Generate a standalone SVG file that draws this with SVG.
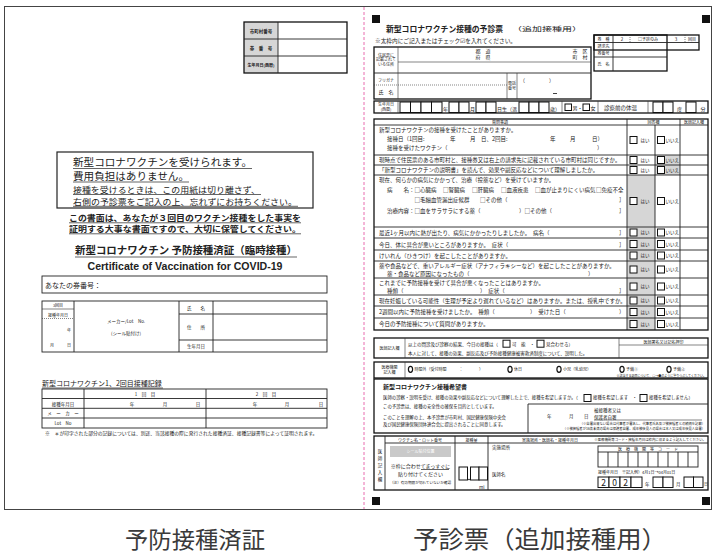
<svg xmlns="http://www.w3.org/2000/svg" width="714" height="555" viewBox="0 0 714 555">
<style>
text{font-family:"Noto Sans CJK JP","Noto Sans",sans-serif;fill:#222}
.c{text-anchor:middle}
.e{text-anchor:end}
.b{font-weight:bold}
.l{stroke:#333;stroke-width:0.6;fill:none}
.m{stroke:#222;stroke-width:0.9;fill:none}
.k{stroke:#111;stroke-width:1.3;fill:none}
.cb{fill:#fff;stroke:#111;stroke-width:1}
.bx{fill:#fff;stroke:#111;stroke-width:1}
.g{fill:#d6d6d6}
.dot{stroke:#333;stroke-width:0.6;stroke-dasharray:1 1;fill:none}
.u{stroke:#222;stroke-width:0.7}
.f3{font-size:3.3px}.f4{font-size:4px}.f44{font-size:4.4px}.f45{font-size:4.5px}.f5{font-size:5px}.f55{font-size:5.5px}
.oc{fill:none;stroke:#111;stroke-width:1.2}
</style>
<defs>
<g id="ans">
<rect class="cb" x="630" y="-3.5" width="7" height="7"/>
<text x="640.5" y="1.7" class="f45">はい</text>
<rect class="cb" x="657.5" y="-3.5" width="7" height="7"/>
<text x="665.5" y="1.7" class="f45">いいえ</text>
</g>
</defs>
<rect width="714" height="555" fill="#fff"/>

<g id="frame">
<rect x="4.5" y="6.5" width="707" height="503" fill="none" stroke="#444" stroke-width="1"/>
<line x1="364" y1="7" x2="364" y2="509" stroke="#e2479a" stroke-width="0.8" stroke-dasharray="3 2"/>
</g>

<!-- LEFT PAGE -->
<g id="id-table">
<rect x="244" y="22" width="34" height="51" class="g"/>
<rect x="244" y="22" width="103" height="51" class="k"/>
<line class="m" x1="244" y1="39" x2="347" y2="39"/>
<line class="m" x1="244" y1="56" x2="347" y2="56"/>
<line class="m" x1="278" y1="22" x2="278" y2="73"/>
<text x="261" y="32.5" class="c f45 b">市町村番号</text>
<text x="261" y="49.5" class="c f45 b">券　番　号</text>
<text x="261" y="66.5" class="c f4 b">生年月日(西暦)</text>
</g>

<g id="notice">
<rect x="57" y="152" width="256" height="56" fill="none" stroke="#222" stroke-width="1.2"/>
<text x="73" y="165.5" font-size="10.2" textLength="179" lengthAdjust="spacingAndGlyphs">新型コロナワクチンを受けられます。</text>
<line class="u" x1="73" y1="168.5" x2="252" y2="168.5"/>
<text x="73" y="179.5" font-size="10.2" textLength="116" lengthAdjust="spacingAndGlyphs">費用負担はありません。</text>
<line class="u" x1="73" y1="182" x2="189" y2="182"/>
<text x="73" y="192.5" font-size="8.4" textLength="187" lengthAdjust="spacingAndGlyphs">接種を受けるときは、この用紙は切り離さず、</text>
<line class="u" x1="73" y1="194.5" x2="261" y2="194.5"/>
<text x="73" y="204.5" font-size="8.4" textLength="224" lengthAdjust="spacingAndGlyphs">右側の予診票をご記入の上、忘れずにお持ちください。</text>
<line class="u" x1="73" y1="206.3" x2="298" y2="206.3"/>
</g>

<g id="keep-note">
<text x="69" y="220.8" class="b" font-size="8" textLength="232" lengthAdjust="spacingAndGlyphs">この書面は、あなたが３回目のワクチン接種をした事実を</text>
<line class="u" x1="69" y1="222.8" x2="301" y2="222.8"/>
<text x="69" y="231.8" class="b" font-size="8" textLength="232" lengthAdjust="spacingAndGlyphs">証明する大事な書面ですので、大切に保管してください。</text>
<line class="u" x1="69" y1="233.8" x2="301" y2="233.8"/>
</g>

<g id="cert-title">
<text x="75" y="254" class="b" font-size="10.5" textLength="222" lengthAdjust="spacingAndGlyphs">新型コロナワクチン 予防接種済証（臨時接種）</text>
<line class="u" x1="75" y1="257" x2="297" y2="257"/>
<text x="185" y="270" class="c b" font-size="10" textLength="195" lengthAdjust="spacingAndGlyphs" style="font-family:'Liberation Sans',sans-serif">Certificate of Vaccination for COVID-19</text>
</g>

<g id="ticket-no">
<rect x="42" y="276" width="285" height="17" class="m"/>
<text x="45" y="287.5" font-size="7">あなたの券番号：</text>
</g>

<g id="dose3">
<rect x="42" y="301" width="285" height="51" class="m"/>
<line class="m" x1="74" y1="301" x2="74" y2="352"/>
<line class="m" x1="179" y1="301" x2="179" y2="352"/>
<line class="m" x1="213" y1="301" x2="213" y2="352"/>
<line class="l" x1="42" y1="309" x2="74" y2="309"/>
<line class="dot" x1="42" y1="318.5" x2="74" y2="318.5"/>
<line class="m" x1="179" y1="314" x2="327" y2="314"/>
<line class="m" x1="179" y1="340" x2="327" y2="340"/>
<text x="58" y="307" class="c f4">3回目</text>
<text x="58" y="316.5" class="c f4">接種年月日</text>
<text x="71" y="332" class="e f4">年</text>
<text x="52" y="347" class="c f4">月</text>
<text x="71" y="347" class="e f4">日</text>
<text x="126" y="323" class="c f45">メーカー/Lot　No.</text>
<text x="126" y="334.5" class="c f45">(シール貼付け)</text>
<text x="196" y="310" class="c f45">氏　　名</text>
<text x="196" y="329" class="c f45">住　　所</text>
<text x="196" y="348" class="c f45">生年月日</text>
</g>

<g id="dose12">
<text x="42" y="386" font-size="7">新型コロナワクチン1、2回目接種記録</text>
<line class="u" x1="42" y1="388" x2="163" y2="388"/>
<rect x="42" y="389" width="285" height="39" class="m"/>
<line class="m" x1="42" y1="398.5" x2="327" y2="398.5"/>
<line class="m" x1="42" y1="408.3" x2="327" y2="408.3"/>
<line class="m" x1="42" y1="418" x2="327" y2="418"/>
<line class="m" x1="84" y1="389" x2="84" y2="428"/>
<line class="m" x1="206" y1="389" x2="206" y2="428"/>
<text x="145" y="396" class="c f45">1　回　目</text>
<text x="266" y="396" class="c f45">2　回　目</text>
<text x="63" y="405.5" class="c f45">接種年月日</text>
<text x="132" y="405.5" class="c f45">年</text>
<text x="165" y="405.5" class="c f45">月</text>
<text x="198" y="405.5" class="c f45">日</text>
<text x="255" y="405.5" class="c f45">年</text>
<text x="287" y="405.5" class="c f45">月</text>
<text x="321" y="405.5" class="c f45">日</text>
<text x="63" y="415.3" class="c f45">メ　ー　カ　ー</text>
<text x="63" y="425" class="c f45">Lot　No</text>
<text x="45" y="434.5" font-size="4.8">※　＊が印字された部分の記録については、別途、当該接種の際に発行された接種済証、接種記録書等によって証明されます。</text>
</g>

<!-- RIGHT PAGE -->
<g id="marks" fill="#111">
<rect x="372" y="15" width="8" height="8"/>
<rect x="702" y="15" width="8" height="8"/>
<rect x="372" y="497" width="8" height="8"/>
<rect x="702" y="497" width="8" height="8"/>
</g>

<g id="form-title">
<text x="386" y="32" class="b" font-size="8.3" textLength="117" lengthAdjust="spacingAndGlyphs">新型コロナワクチン接種の予診票</text>
<text x="512" y="31" font-size="6" textLength="70" lengthAdjust="spacingAndGlyphs">（追加接種用）</text>
<text x="375" y="43" font-size="5.7">※太枠内にご記入またはチェック☑を入れてください。</text>
</g>

<g id="info-table">
<rect class="k" x="594" y="35" width="105" height="15"/>
<rect class="k" x="594" y="35" width="73" height="36"/>
<line class="m" x1="594" y1="42.5" x2="699" y2="42.5"/>
<line class="m" x1="594" y1="57" x2="667" y2="57"/>
<line class="m" x1="613" y1="35" x2="613" y2="71"/>
<line class="dot" x1="630" y1="35" x2="630" y2="42.5"/>
<line class="dot" x1="685" y1="35" x2="685" y2="42.5"/>
<text x="603.5" y="40.5" class="c f4">券　種</text>
<text x="622" y="40.8" class="c f45">2</text>
<text x="648" y="40.5" class="c f4">□予診のみ</text>
<text x="676" y="40.8" class="c f45">3</text>
<text x="692" y="40.5" class="c f4">回目</text>
<text x="603.5" y="48" class="c f4">請求先</text>
<text x="603.5" y="55" class="c f4">券番号</text>
<text x="603.5" y="65.5" class="c f4">氏　名</text>
</g>

<g id="address">
<rect class="k" x="374" y="47" width="217" height="52"/>
<line class="m" x1="374" y1="73" x2="591" y2="73"/>
<line class="l" x1="398" y1="47" x2="398" y2="99"/>
<line class="l" x1="398" y1="62" x2="591" y2="62"/>
<line class="dot" x1="374" y1="85" x2="507" y2="85"/>
<line class="l" x1="507" y1="73" x2="507" y2="99"/>
<line class="l" x1="517" y1="73" x2="517" y2="99"/>
<text x="386" y="56.5" class="c f4">住民票に</text>
<text x="386" y="61.3" class="c f4">記載されて</text>
<text x="386" y="66" class="c f4">いる住所</text>
<text x="483" y="52.5" class="c f5">都　道</text>
<text x="483" y="59" class="c f5">府　県</text>
<text x="580" y="52.5" class="c f5">市　区</text>
<text x="580" y="59" class="c f5">町　村</text>
<text x="386" y="81.5" class="c f4">フリガナ</text>
<text x="386" y="94" class="c f5">氏　名</text>
<text x="512" y="84.5" class="c f4">電話</text>
<text x="512" y="90" class="c f4">番号</text>
<text x="520" y="81.5" class="f5">（</text>
<text x="549" y="81.5" class="f5">）</text>
<line x1="553" y1="93.5" x2="557" y2="93.5" stroke="#111" stroke-width="0.8"/>
</g>

<g id="birth">
<rect class="k" x="374" y="101" width="334" height="12"/>
<line class="l" x1="398" y1="101" x2="398" y2="113"/>
<text x="386" y="106" class="c f4">生年月日</text>
<text x="386" y="111" class="c f4">(西暦)</text>
<rect class="bx" x="400" y="102" width="10.5" height="10.5"/>
<rect class="bx" x="410.5" y="102" width="10.5" height="10.5"/>
<rect class="bx" x="421" y="102" width="10.5" height="10.5"/>
<rect class="bx" x="431.5" y="102" width="10.5" height="10.5"/>
<text x="443" y="110.5" class="f5">年</text>
<rect class="bx" x="449" y="102" width="10" height="10.5"/>
<rect class="bx" x="459" y="102" width="10" height="10.5"/>
<text x="470" y="110.5" class="f5">月</text>
<rect class="bx" x="476" y="102" width="10" height="10.5"/>
<rect class="bx" x="486" y="102" width="10" height="10.5"/>
<text x="497" y="110.5" class="f5">日生（満</text>
<rect class="bx" x="519" y="102" width="10" height="10.5"/>
<rect class="bx" x="529" y="102" width="10" height="10.5"/>
<rect class="bx" x="539" y="102" width="10" height="10.5"/>
<text x="550" y="110.5" class="f5">歳）</text>
<line class="l" x1="562" y1="101" x2="562" y2="113"/>
<rect class="cb" x="565" y="104" width="6.5" height="6.5"/>
<text x="572.5" y="110" class="f5">男・</text>
<rect class="cb" x="583" y="104" width="6.5" height="6.5"/>
<text x="590.5" y="110" class="f5">女</text>
<line class="l" x1="598" y1="101" x2="598" y2="113"/>
<text x="604" y="110" class="f55">診察前の体温</text>
<line class="l" x1="648" y1="101" x2="648" y2="113"/>
<rect class="bx" x="653" y="102" width="10" height="10.5"/>
<rect class="bx" x="663" y="102" width="10" height="10.5"/>
<text x="677" y="110.5" class="f5">度</text>
<rect class="bx" x="686" y="102" width="10" height="10.5"/>
<text x="700.5" y="110.5" class="f5">分</text>
</g>

<g id="questions">
<rect class="g" x="655" y="155" width="25" height="20"/>
<rect class="g" x="627" y="175" width="28" height="155"/>
<rect class="k" x="374" y="119" width="334" height="211"/>
<g class="m">
<line x1="374" y1="125" x2="708" y2="125"/>
<line x1="374" y1="155" x2="708" y2="155"/>
<line x1="374" y1="165" x2="708" y2="165"/>
<line x1="374" y1="175" x2="708" y2="175"/>
<line x1="374" y1="227" x2="708" y2="227"/>
<line x1="374" y1="238" x2="708" y2="238"/>
<line x1="374" y1="250" x2="708" y2="250"/>
<line x1="374" y1="261" x2="708" y2="261"/>
<line x1="374" y1="278" x2="708" y2="278"/>
<line x1="374" y1="295" x2="708" y2="295"/>
<line x1="374" y1="306" x2="708" y2="306"/>
<line x1="374" y1="318" x2="708" y2="318"/>
<line x1="627" y1="119" x2="627" y2="330"/>
<line x1="655" y1="125" x2="655" y2="330"/>
<line x1="680" y1="119" x2="680" y2="330"/>
</g>
<text x="500" y="123.7" class="c f4">質問事項</text>
<text x="653.5" y="123.7" class="c f4">回答欄</text>
<text x="694" y="123.7" class="c f4">医師記入欄</text>

<text x="379" y="132" class="f55">新型コロナワクチンの接種を受けたことがありますか。</text>
<text x="387" y="141" class="f55">接種日（1回目:</text>
<text x="450" y="141" class="f55">年</text>
<text x="470" y="141" class="f55">月</text>
<text x="481" y="141" class="f55">日、2回目:</text>
<text x="550" y="141" class="f55">年</text>
<text x="570" y="141" class="f55">月</text>
<text x="592" y="141" class="f55">日）</text>
<text x="387" y="149.5" class="f55">接種を受けたワクチン（</text>
<text x="597" y="149.5" class="f55">）</text>

<text x="379" y="162" class="f55">現時点で住民票のある市町村と、接種券又は右上の請求先に記載されている市町村は同じですか。</text>
<text x="379" y="172" class="f55">「新型コロナワクチンの説明書」を読んで、効果や副反応などについて理解しましたか。</text>

<text x="379" y="182" class="f55">現在、何らかの病気にかかって、治療（投薬など）を受けていますか。</text>
<text x="387" y="192" class="f55">病　　名：□心臓病</text>
<text x="443" y="192" class="f55">□腎臓病</text>
<text x="472" y="192" class="f55">□肝臓病</text>
<text x="501" y="192" class="f55">□血液疾患</text>
<text x="535" y="192" class="f55">□血が止まりにくい病気</text>
<text x="596" y="192" class="f55">□免疫不全</text>
<text x="414.5" y="202" class="f55">□毛細血管漏出症候群</text>
<text x="480" y="202" class="f55">□その他（</text>
<text x="619" y="202" class="f55">］</text>
<text x="387" y="213" class="f55">治療内容：□血をサラサラにする薬（</text>
<text x="519" y="213" class="f55">）□その他（</text>
<text x="619" y="213" class="f55">］</text>

<text x="379" y="235" class="f55">最近1ヶ月以内に熱が出たり、病気にかかったりしましたか。　病名（</text>
<text x="619" y="235" class="f55">］</text>
<text x="379" y="246.5" class="f55">今日、体に具合が悪いところがありますか。　症状（</text>
<text x="619" y="246.5" class="f55">］</text>
<text x="379" y="258" class="f55">けいれん（ひきつけ）を起こしたことがありますか。</text>
<text x="379" y="267.5" class="f55">薬や食品などで、重いアレルギー症状（アナフィラキシーなど）を起こしたことがありますか。</text>
<text x="387" y="275.5" class="f55">薬・食品など原因になったもの（</text>
<text x="588" y="275.5" class="f55">）</text>
<text x="379" y="284.5" class="f55">これまでに予防接種を受けて具合が悪くなったことはありますか。</text>
<text x="387" y="292.5" class="f55">種類（</text>
<text x="480" y="292.5" class="f55">）　症状（</text>
<text x="619" y="292.5" class="f55">］</text>
<text x="379" y="303" class="f55">現在妊娠している可能性（生理が予定より遅れているなど）はありますか。または、授乳中ですか。</text>
<text x="379" y="314" class="f55">2週間以内に予防接種を受けましたか。　種類（</text>
<text x="530" y="314" class="f55">）　受けた日（</text>
<text x="619" y="314" class="f55">）</text>
<text x="379" y="326" class="f55">今日の予防接種について質問がありますか。</text>

<use href="#ans" y="140"/>
<use href="#ans" y="160"/>
<use href="#ans" y="170"/>
<use href="#ans" y="201"/>
<use href="#ans" y="232.5"/>
<use href="#ans" y="244"/>
<use href="#ans" y="255.5"/>
<use href="#ans" y="269.5"/>
<use href="#ans" y="286.5"/>
<use href="#ans" y="300.5"/>
<use href="#ans" y="312"/>
<use href="#ans" y="324"/>
</g>

<g id="doctor">
<rect class="k" x="374" y="338" width="334" height="20"/>
<line class="l" x1="405" y1="338" x2="405" y2="358"/>
<line class="l" x1="619" y1="338" x2="619" y2="358"/>
<line class="l" x1="619" y1="345" x2="708" y2="345"/>
<text x="389.5" y="349.5" class="c f4">医師記入欄</text>
<text x="663.5" y="343.5" class="c f4">医師署名又は記名押印</text>
<text x="408" y="345.5" class="f45">以上の問診及び診察の結果、今日の接種は（</text>
<rect class="cb" x="503" y="340.2" width="7" height="7"/>
<text x="512" y="345.5" class="f45">可　能　・</text>
<rect class="cb" x="537" y="340.2" width="7" height="7"/>
<text x="546" y="345.5" class="f45">見合わせる）</text>
<text x="408" y="354.5" class="f45">本人に対して、接種の効果、副反応及び予防接種健康被害救済制度について、説明した。</text>
</g>

<g id="clinic">
<rect class="k" x="374" y="362" width="334" height="16"/>
<line class="l" x1="405" y1="362" x2="405" y2="378"/>
<text x="389.5" y="368.5" class="c f4">医療機関</text>
<text x="389.5" y="373.5" class="c f4">記入欄</text>
<ellipse class="oc" cx="410.5" cy="369.3" rx="2.1" ry="3"/>
<text x="414.5" y="371" class="f4">時間外（受付時間</text>
<text x="459" y="371" class="f4">：</text>
<text x="479" y="371" class="f4">）</text>
<ellipse class="oc" cx="510" cy="369.3" rx="2.1" ry="3"/>
<text x="514" y="371" class="f4">休日</text>
<ellipse class="oc" cx="559" cy="369.3" rx="2.1" ry="3"/>
<text x="563" y="371" class="f4">小児（乳幼児）</text>
<ellipse class="oc" cx="622" cy="369.3" rx="2.1" ry="3"/>
<text x="626" y="371" class="f4">予備①</text>
<ellipse class="oc" cx="669" cy="369.3" rx="2.1" ry="3"/>
<text x="673" y="371" class="f4">予備②</text>
<text x="706" y="376.7" class="e" font-size="3">※該当する項目について、○→●のように塗りつぶしてください。</text>
</g>

<g id="wish">
<rect class="k" x="374" y="379" width="334" height="54"/>
<text x="383" y="389" class="b" font-size="6">新型コロナワクチン接種希望書</text>
<text x="383" y="399" class="f44">医師の診察・説明を受け、接種の効果や副反応などについて理解した上で、接種を希望しますか。（</text>
<rect class="cb" x="584" y="394.5" width="7" height="7"/>
<text x="593" y="399" class="f44">接種を希望します　・</text>
<rect class="cb" x="640" y="394.5" width="7" height="7"/>
<text x="649" y="399" class="f44">接種を希望しません）</text>
<text x="383" y="408" class="f44">この予診票は、接種の安全性の確保を目的としています。</text>
<text x="383" y="419" class="f44">このことを理解の上、本予診票が市町村、国民健康保険中央会</text>
<text x="383" y="426" class="f44">及び国民健康保険団体連合会に提出されることに同意します。</text>
<path class="m" d="M708,404 H528 V433"/>
<text x="547" y="418" class="f45">年</text>
<text x="569" y="418" class="f45">月</text>
<text x="584" y="418" class="f45">日</text>
<text x="594" y="412" class="f45">被接種者又は</text>
<text x="594" y="418.5" class="f45">保護者自署</text>
<line class="l" x1="594" y1="420" x2="702" y2="420"/>
<text x="705" y="424.5" class="e f3">（※自署出来ない場合は代筆者が署名し、代筆者氏名及び被接種者との続柄を記載）</text>
<text x="705" y="429.5" class="e f3">（※被接種者が16歳未満の場合は保護者自署、成年被後見人の場合は本人又は成年後見人自署）</text>
</g>

<g id="record">
<rect class="k" x="374" y="436" width="334" height="54"/>
<line class="m" x1="385" y1="436" x2="385" y2="490"/>
<line class="m" x1="455" y1="436" x2="455" y2="490"/>
<line class="m" x1="488" y1="436" x2="488" y2="490"/>
<line class="m" x1="385" y1="443" x2="708" y2="443"/>
<text x="380" y="453" class="c f45">医</text>
<text x="380" y="460" class="c f45">師</text>
<text x="380" y="467" class="c f45">記</text>
<text x="380" y="474" class="c f45">入</text>
<text x="380" y="481" class="c f45">欄</text>
<text x="420" y="441.5" class="c f4">ワクチン名・ロット番号</text>
<text x="471.5" y="441.5" class="c f4">接種量</text>
<text x="550" y="441.5" class="c f4">実施場所・医師名・接種年月日</text>
<text x="706" y="441.3" class="e" font-size="3.4">※医療機関等コード・接種年月日は枠内に収まるよう記入してください。</text>
<rect x="390" y="446" width="61" height="11" fill="#c9c9c9"/>
<text x="420.5" y="453.3" class="c f4" style="fill:#fff">シール貼付位置</text>
<text x="420.5" y="468" class="c f5">※枠に合わせてまっすぐに</text>
<line class="u" x1="421" y1="469.5" x2="449" y2="469.5"/>
<text x="420.5" y="475.5" class="c f5">貼り付けてください</text>
<text x="420.5" y="484" class="c" font-size="3.6">（注）有効期限が切れていないか確認</text>
<rect class="bx" x="459" y="467" width="8.5" height="13"/>
<circle cx="469" cy="479.5" r="0.8" fill="#111"/>
<rect class="bx" x="470.5" y="467" width="8.5" height="13"/>
<rect class="bx" x="479" y="467" width="8.5" height="13"/>
<text x="479" y="488.5" class="f45">ml</text>
<text x="492" y="449" class="f45">実施場所</text>
<text x="492" y="476" class="f45">医師名</text>
<rect class="m" x="598" y="446" width="100" height="21"/>
<line class="m" x1="598" y1="452" x2="698" y2="452"/>
<text x="648" y="451" class="c f4">医　療　機　関　等　コ　ー　ド</text>
<g class="m">
<line x1="608" y1="452" x2="608" y2="467"/><line x1="618" y1="452" x2="618" y2="467"/>
<line x1="628" y1="452" x2="628" y2="467"/><line x1="638" y1="452" x2="638" y2="467"/>
<line x1="648" y1="452" x2="648" y2="467"/><line x1="658" y1="452" x2="658" y2="467"/>
<line x1="668" y1="452" x2="668" y2="467"/><line x1="678" y1="452" x2="678" y2="467"/>
<line x1="688" y1="452" x2="688" y2="467"/>
</g>
<text x="598" y="473.5" class="f4">接種年月日　※記入例）4月1日→04月01日</text>
<rect class="bx" x="598" y="477" width="11" height="10.5"/>
<rect class="bx" x="609" y="477" width="11" height="10.5"/>
<rect class="bx" x="620" y="477" width="11" height="10.5"/>
<rect class="bx" x="631" y="477" width="11" height="10.5"/>
<text x="603.5" y="485.5" class="c" font-size="8.5">2</text>
<text x="614.5" y="485.5" class="c" font-size="8.5">0</text>
<text x="625.5" y="485.5" class="c" font-size="8.5">2</text>
<text x="645" y="485.5" class="f45">年</text>
<rect class="bx" x="653" y="477" width="10" height="10.5"/>
<rect class="bx" x="663" y="477" width="10" height="10.5"/>
<text x="676" y="485.5" class="f45">月</text>
<rect class="bx" x="684" y="477" width="9.5" height="10.5"/>
<rect class="bx" x="693.5" y="477" width="9.5" height="10.5"/>
<text x="704" y="485.5" font-size="4">日</text>
</g>

<g id="captions">
<text x="195" y="548" class="c" font-size="23" textLength="140" lengthAdjust="spacingAndGlyphs" style="fill:#3a3a3a">予防接種済証</text>
<text x="540" y="548" class="c" font-size="24" textLength="254" lengthAdjust="spacingAndGlyphs" style="fill:#3a3a3a">予診票（追加接種用）</text>
</g>
</svg>
